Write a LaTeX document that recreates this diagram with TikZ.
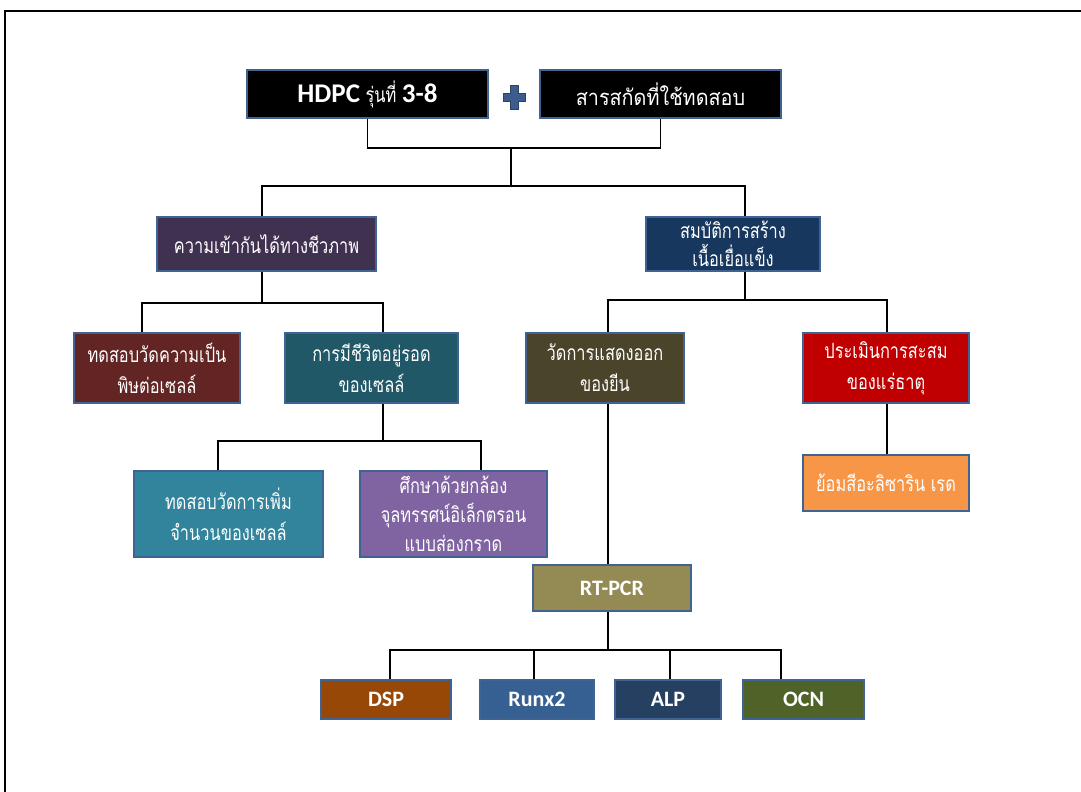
\documentclass[tikz,border=0pt]{standalone}
\usepackage{fontspec}
\setmainfont{Carlito}
\newfontfamily\thai[Script=Thai, FakeStretch=0.78]{Loma}
\newfontfamily\thaiw[Script=Thai, FakeStretch=0.9]{Loma}
\usetikzlibrary{calc}
\definecolor{bordc}{HTML}{3F6393}
\definecolor{plusc}{HTML}{3B5C8C}
\definecolor{cBio}{HTML}{403151}
\definecolor{cHard}{HTML}{17375E}
\definecolor{cTox}{HTML}{632523}
\definecolor{cSurv}{HTML}{215868}
\definecolor{cGene}{HTML}{4A452A}
\definecolor{cMin}{HTML}{C00000}
\definecolor{cProl}{HTML}{31849B}
\definecolor{cSem}{HTML}{8064A2}
\definecolor{cAliz}{HTML}{F79646}
\definecolor{cRt}{HTML}{948A54}
\definecolor{cDsp}{HTML}{974806}
\definecolor{cRunx}{HTML}{376092}
\definecolor{cAlp}{HTML}{254061}
\definecolor{cOcn}{HTML}{4F6228}
\begin{document}
\begin{tikzpicture}[x=1pt,y=-1pt,
  box/.style={draw=bordc, line width=2.2pt, text=white, align=center, inner sep=0pt,
    font=\thai\fontsize{21}{31}\selectfont},
  latbox/.style={box, font=\normalfont\bfseries\fontsize{22}{26}\selectfont},
  conn/.style={draw=black, line width=1.2pt}]
\useasboundingbox (0,0) rectangle (1081,792);
% page frame
\draw[line width=2.6pt] (5,792) -- (5,11) -- (1081,11);
% top row
\node[box, fill=black, minimum width=241pt, minimum height=48pt] (hdpc) at (367.5,94)
  {{\normalfont\bfseries\fontsize{27}{30}\selectfont HDPC} {\fontsize{21}{24}\selectfont รุ่นที่} {\normalfont\bfseries\fontsize{27}{30}\selectfont 3-8}};
\node[box, fill=black, minimum width=241pt, minimum height=48pt, font=\thaiw\fontsize{22}{26}\selectfont] (sarn) at (660.5,94)
  {สารสกัดที่ใช้ทดสอบ};
\fill[plusc, draw=bordc!70!black, line width=0.8pt]
  (510,85) -- (518,85) -- (518,93) -- (525,93) -- (525,101) -- (518,101) -- (518,109)
  -- (510,109) -- (510,101) -- (503,101) -- (503,93) -- (510,93) -- cycle;
% level 2
\node[box, fill=cBio, minimum width=219pt, minimum height=54pt] (bio) at (266.5,244)
  {ความเข้ากันได้ทางชีวภาพ};
\node[box, fill=cHard, minimum width=174pt, minimum height=54pt, font=\thai\fontsize{21}{28}\selectfont] (hard) at (733,244)
  {สมบัติการสร้าง\\เนื้อเยื่อแข็ง};
% level 3
\node[box, fill=cTox, minimum width=166pt, minimum height=70pt] (tox) at (157,368)
  {ทดสอบวัดความเป็น\\พิษต่อเซลล์};
\node[box, fill=cSurv, minimum width=173pt, minimum height=70pt] (surv) at (371.5,368)
  {การมีชีวิตอยู่รอด\\ของเซลล์};
\node[box, fill=cGene, minimum width=158pt, minimum height=70pt] (gene) at (605,368)
  {วัดการแสดงออก\\ของยีน};
\node[box, fill=cMin, minimum width=166pt, minimum height=70pt] (mineral) at (886,368)
  {ประเมินการสะสม\\ของแร่ธาตุ};
% level 4
\node[box, fill=cProl, minimum width=189pt, minimum height=86pt] (prolif) at (228.5,514)
  {ทดสอบวัดการเพิ่ม\\จำนวนของเซลล์};
\node[box, fill=cSem, minimum width=187pt, minimum height=86pt, font=\thai\fontsize{21}{29}\selectfont] (sem) at (453.5,514)
  {ศึกษาด้วยกล้อง\\จุลทรรศน์อิเล็กตรอน\\แบบส่องกราด};
\node[box, fill=cAliz, minimum width=166pt, minimum height=56pt] (aliz) at (886,483)
  {ย้อมสีอะลิซาริน เรด};
\node[latbox, fill=cRt, minimum width=158pt, minimum height=46pt] (rtpcr) at (612,588) {RT-PCR};
% genes
\node[latbox, fill=cDsp, minimum width=130pt, minimum height=39pt] (dsp) at (386,699.5) {DSP};
\node[latbox, fill=cRunx, minimum width=114pt, minimum height=39pt] (runx) at (537,699.5) {Runx2};
\node[latbox, fill=cAlp, minimum width=106pt, minimum height=39pt] (alp) at (668,699.5) {ALP};
\node[latbox, fill=cOcn, minimum width=121pt, minimum height=39pt] (ocn) at (803.5,699.5) {OCN};
% connectors
\coordinate (j1) at (511,148);
\coordinate (j2) at (511,186);
\draw[conn] (hdpc.south) |- (j1);
\draw[conn] (sarn.south) |- (j1);
\draw[conn] (j1) -- (j2);
\draw[conn] (j2) -| ($(bio.north)+(-4.5,0)$);
\draw[conn] (j2) -| ($(hard.north)+(12,0)$);
\coordinate (j3) at (262,303);
\draw[conn] ($(bio.south)+(-4.5,0)$) -- (j3);
\draw[conn] (j3) -| ($(tox.north)+(-15,0)$);
\draw[conn] (j3) -| ($(surv.north)+(11.5,0)$);
\coordinate (j4) at (745,300);
\draw[conn] ($(hard.south)+(12,0)$) -- (j4);
\draw[conn] (j4) -| ($(gene.north)+(3,0)$);
\draw[conn] (j4) -| ($(mineral.north)+(1,0)$);
\coordinate (j5) at (383,441);
\draw[conn] ($(surv.south)+(11.5,0)$) -- (j5);
\draw[conn] (j5) -| ($(prolif.north)+(-10.5,0)$);
\draw[conn] (j5) -| ($(sem.north)+(27.5,0)$);
\draw[conn] ($(mineral.south)+(1,0)$) -- ($(aliz.north)+(1,0)$);
\draw[conn] ($(gene.south)+(3,0)$) -- ($(rtpcr.north)+(-4,0)$);
\coordinate (j6) at (608,650);
\draw[conn] ($(rtpcr.south)+(-4,0)$) -- (j6);
\draw[conn] (j6) -| ($(dsp.north)+(4,0)$);
\draw[conn] (j6) -| ($(runx.north)+(-3,0)$);
\draw[conn] (j6) -| ($(alp.north)+(2,0)$);
\draw[conn] (j6) -| ($(ocn.north)+(-22.5,0)$);
\end{tikzpicture}
\end{document}
